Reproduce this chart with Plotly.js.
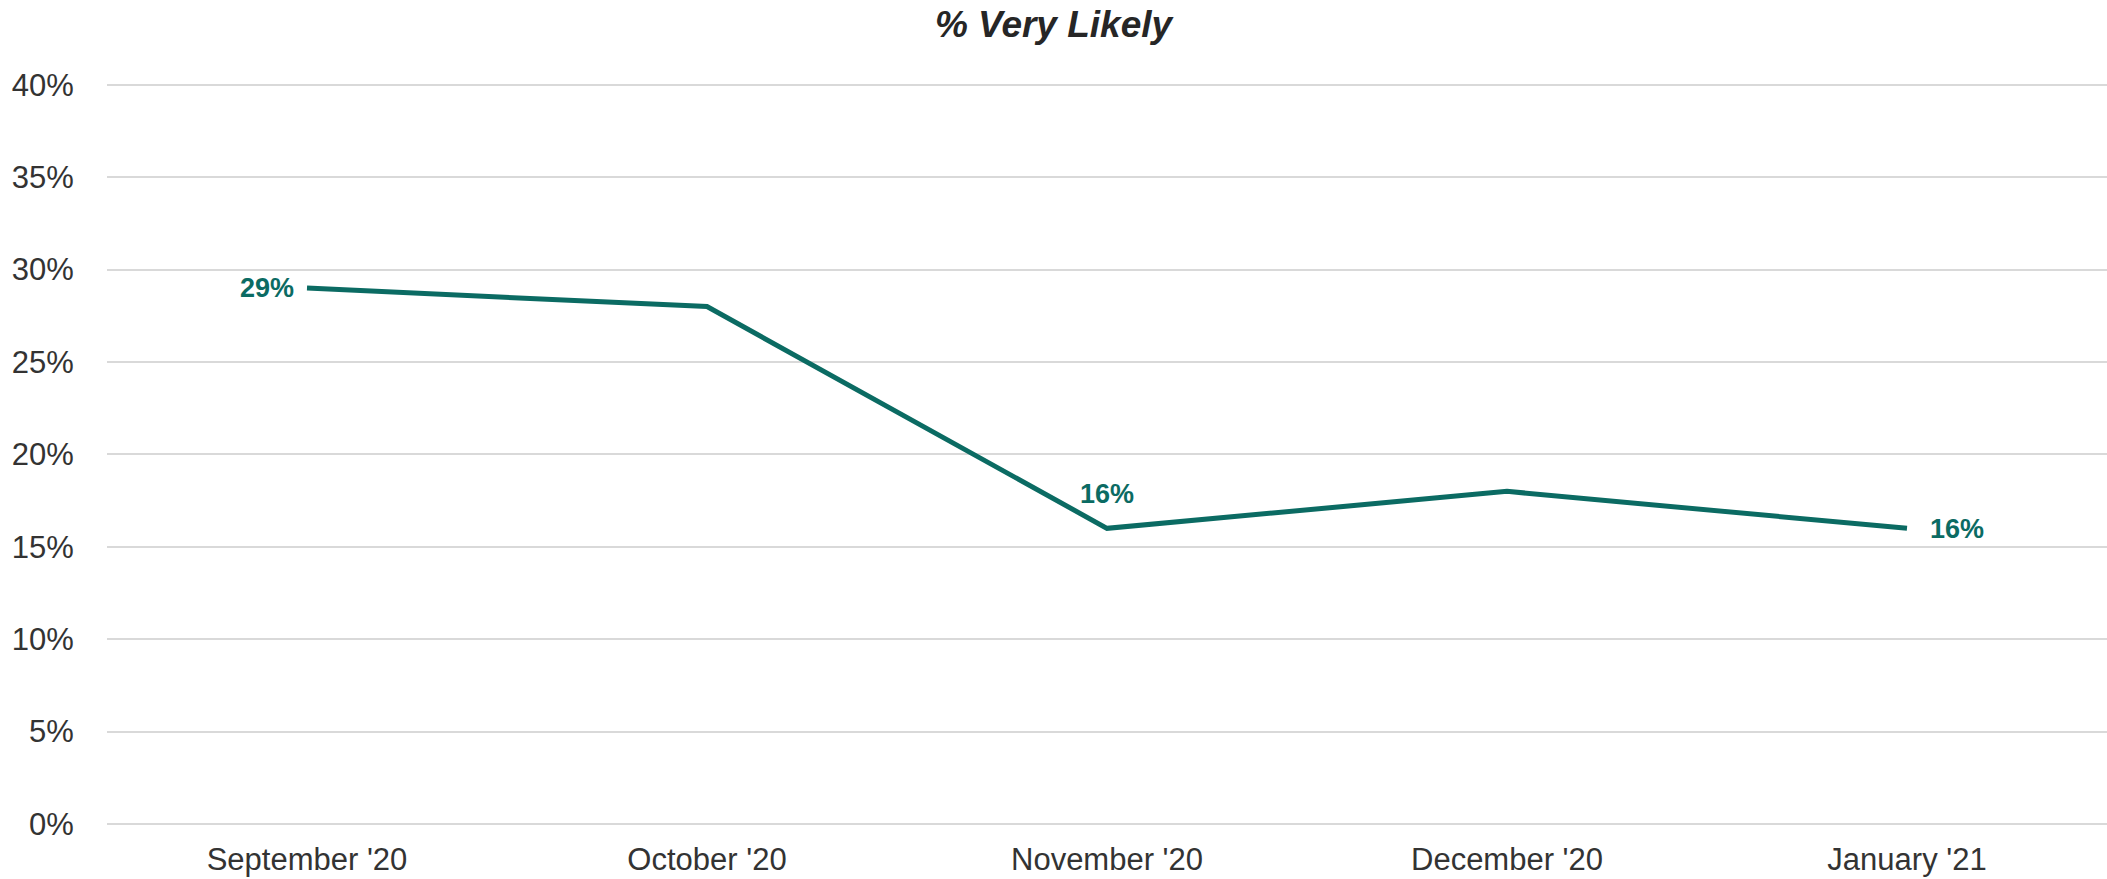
<!DOCTYPE html>
<html>
<head>
<meta charset="utf-8">
<script src="https://cdn.plot.ly/plotly-3.0.1.min.js"></script>
<style>html,body{margin:0;padding:0;background:#fff;}#chart{width:2107px;height:879px;}</style>
</head>
<body>
<div id="chart"></div>
<script>
const months = ["September '20", "October '20", "November '20", "December '20", "January '21"];
const veryLikely = [29, 28, 16, 18, 16];
const labelText = ["29%", "", "16%", "", "16%"];
const yTickVals = [0, 5, 10, 15, 20, 25, 30, 35, 40];
const yTickText = ["0%", "5%", "10%", "15%", "20%", "25%", "30%", "35%", "40%"];

const teal = '#0b6b63';
const labelPlacement = [
  {xanchor: 'right', yanchor: 'middle', xshift: -11, yshift: 0},
  null,
  {xanchor: 'center', yanchor: 'middle', xshift: 0, yshift: 34},
  null,
  {xanchor: 'left', yanchor: 'middle', xshift: 21, yshift: -1}
];

const annotations = [];
labelText.forEach((t, i) => {
  if (!t) return;
  const p = labelPlacement[i];
  annotations.push(Object.assign({
    x: months[i], y: veryLikely[i], xref: 'x', yref: 'y',
    text: '<b>' + t + '</b>', showarrow: false,
    font: {family: 'Liberation Sans, Arial, sans-serif', size: 27, color: teal}
  }, p));
});

const trace = {
  x: months, y: veryLikely, type: 'scatter', mode: 'lines',
  line: {color: teal, width: 5}, hoverinfo: 'skip'
};

const layout = {
  width: 2107, height: 879,
  margin: {l: 107, r: 0, t: 83, b: 55, pad: 0},
  paper_bgcolor: '#ffffff', plot_bgcolor: '#ffffff',
  showlegend: false,
  title: {
    text: '<b><i>% Very Likely</i></b>',
    x: 0.5, xref: 'container', xanchor: 'center',
    y: 0.973, yref: 'container', yanchor: 'middle',
    font: {family: 'Liberation Sans, Arial, sans-serif', size: 37, color: '#262626'}
  },
  font: {family: 'Liberation Sans, Arial, sans-serif', color: '#333333'},
  xaxis: {
    type: 'category', range: [-0.5, 4.5],
    showgrid: false, zeroline: false, showline: false,
    ticks: 'outside', ticklen: 8, tickcolor: 'rgba(0,0,0,0)',
    tickfont: {size: 31, color: '#333333'}
  },
  yaxis: {
    range: [0, 40.1], tickvals: yTickVals, ticktext: yTickText,
    showgrid: true, gridcolor: '#d9d9d9', gridwidth: 2,
    zeroline: true, zerolinecolor: '#d9d9d9', zerolinewidth: 2,
    showline: false,
    ticks: 'outside', ticklen: 26, tickcolor: 'rgba(0,0,0,0)',
    tickfont: {size: 31, color: '#333333'}
  },
  annotations: annotations
};

Plotly.newPlot('chart', [trace], layout, {displayModeBar: false, staticPlot: true});
</script>
</body>
</html>
